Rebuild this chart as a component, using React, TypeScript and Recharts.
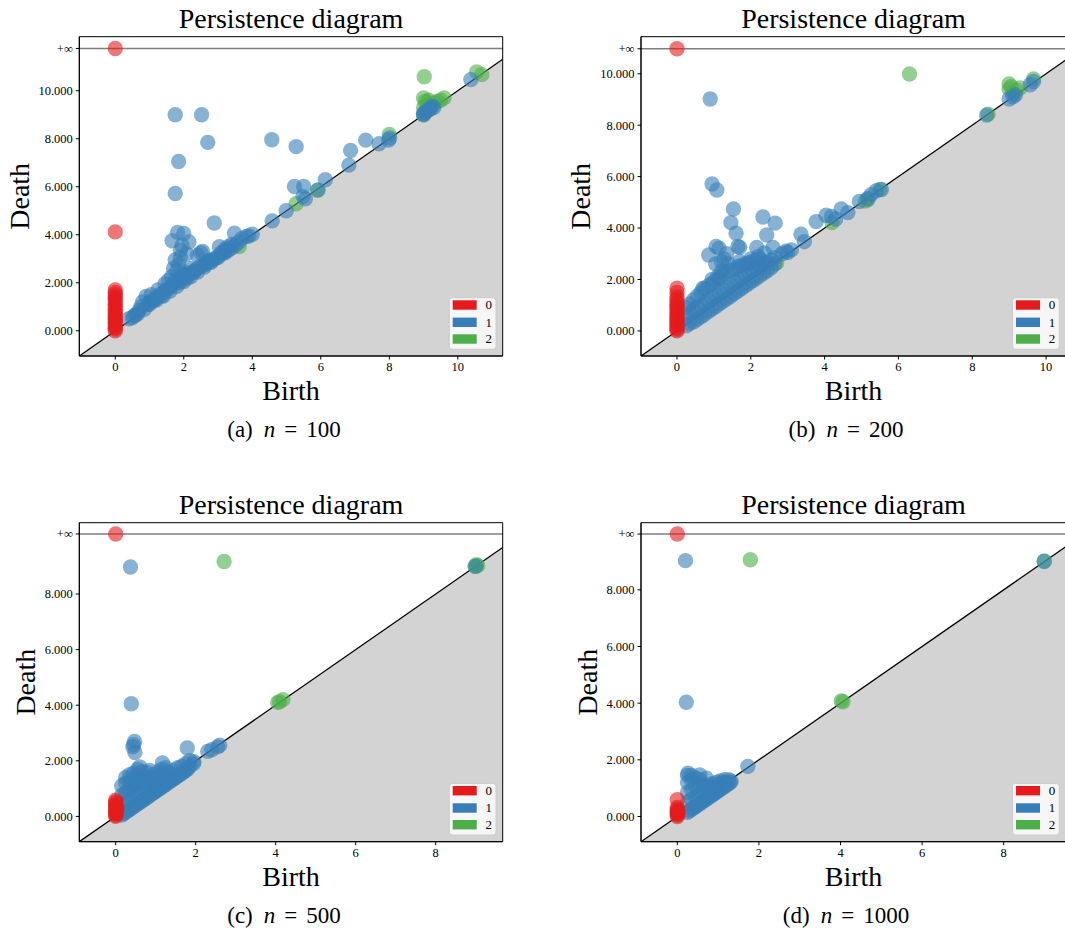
import React from "react";
import {
  ComposedChart,
  XAxis,
  YAxis,
  Area,
  Scatter,
  ReferenceLine,
  ReferenceArea,
} from "recharts";

const SERIF = '"Liberation Serif", "Times New Roman", serif';
const RED = "#e41a1c";
const BLUE = "#377eb8";
const GREEN = "#4daf4a";

type Pt = [number, number]; // [birth, death]

// (a) n = 100
const h0A: Pt[] = [
  [0, Infinity], [0, 4.12], [0, 0], [0, 0.07], [0, 0.14], [0, 0.22], [0, 0.3], [0, 0.38],
  [0, 0.46], [0, 0.55], [0, 0.63], [0, 0.72], [0, 0.8], [0, 0.9], [0, 1.0], [0, 1.1],
  [0, 1.2], [0, 1.3], [0, 1.4], [0, 1.5], [0, 1.6], [0, 1.7],
];
const h1A: Pt[] = [
  [1.75, 9.0], [2.52, 9.0], [2.7, 7.85], [1.85, 7.05], [1.75, 5.72], [2.89, 4.49],
  [4.57, 7.96], [5.28, 7.67], [4.58, 4.58], [4.99, 5.0], [5.23, 6.01], [5.5, 6.01],
  [5.48, 5.6], [5.55, 5.5], [5.92, 5.87], [6.13, 6.29], [6.82, 6.9], [6.87, 7.51],
  [7.31, 7.94], [7.7, 7.79], [8.01, 8.03], [7.98, 7.95], [10.38, 10.46],
  [9.0, 9.05], [9.05, 9.1], [9.1, 9.15], [9.2, 9.25], [9.25, 9.35], [9.3, 9.3], [9.15, 9.2], [9.0, 9.0],
  [3.48, 4.07], [3.7, 3.85], [3.82, 3.93], [4.0, 4.02], [3.9, 3.95], [3.3, 3.5], [3.2, 3.4],
  [3.1, 3.25], [3.0, 3.1], [3.04, 3.5], [2.55, 3.3], [2.5, 3.25], [2.4, 3.15], [2.8, 2.95], [2.65, 2.8],
  [1.66, 3.75], [1.82, 4.1], [2.0, 4.05], [2.15, 3.7], [1.95, 3.55], [1.9, 3.35], [2.08, 3.2],
  [1.9, 3.05], [1.75, 2.95], [1.85, 2.75], [1.7, 2.6], [1.8, 2.5], [2.0, 2.45], [2.2, 2.6],
  [2.3, 2.45], [2.1, 2.3],
  [0.4, 0.5], [0.5, 0.55], [0.55, 0.62], [0.6, 0.68], [0.65, 0.7], [0.7, 0.85], [0.75, 1.0],
  [0.8, 1.2], [0.85, 0.9], [0.9, 1.43], [0.95, 1.1], [1.0, 1.2], [1.0, 1.1], [1.05, 1.5],
  [1.1, 1.25], [1.2, 1.4], [1.2, 1.28], [1.25, 1.7], [1.3, 1.5], [1.4, 1.6], [1.4, 1.45],
  [1.45, 1.95], [1.5, 1.7], [1.55, 2.1], [1.6, 1.8], [1.6, 1.65], [1.65, 2.25], [1.7, 1.95],
  [1.75, 2.1], [1.8, 1.85], [1.85, 2.0], [1.9, 2.2], [1.95, 2.1], [2.0, 2.35], [2.0, 2.05],
  [2.1, 2.2], [2.2, 2.4], [2.2, 2.25], [2.3, 2.5], [2.4, 2.6], [2.4, 2.45], [2.5, 2.7],
  [2.6, 2.75], [2.6, 2.65], [2.7, 2.9], [2.8, 2.85], [2.8, 2.9], [2.9, 3.0], [3.0, 3.05],
  [3.1, 3.2], [3.2, 3.3], [3.2, 3.25], [3.3, 3.35], [3.4, 3.6], [3.4, 3.45], [3.5, 3.55],
  [3.6, 3.7], [1.15, 1.3], [1.35, 1.45],
];
const h2A: Pt[] = [
  [9.02, 10.58], [9.0, 9.7], [9.05, 9.55], [9.1, 9.4], [9.0, 9.3], [9.15, 9.6], [9.3, 9.5],
  [9.4, 9.55], [9.5, 9.6], [9.6, 9.7], [9.0, 9.0], [10.55, 10.78], [10.7, 10.67],
  [8.0, 8.18], [5.28, 5.29], [5.9, 5.85], [3.62, 3.51],
];

// (b) n = 200
const h0B: Pt[] = [
  [0, Infinity], [0, 1.66], [0, 1.5], [0, 0], [0, 0.06], [0, 0.12], [0, 0.2], [0, 0.28],
  [0, 0.36], [0, 0.44], [0, 0.52], [0, 0.6], [0, 0.68], [0, 0.76], [0, 0.85], [0, 0.94],
  [0, 1.03], [0, 1.12], [0, 1.22], [0, 1.32],
];
const h1B: Pt[] = [
  [0.9, 9.02], [0.95, 5.71], [1.08, 5.48], [1.53, 4.74], [1.46, 4.21], [1.6, 3.8], [1.65, 3.28],
  [1.7, 3.25], [2.33, 4.43], [2.66, 4.19], [2.43, 3.73], [2.16, 3.25], [2.37, 3.03], [2.6, 3.25],
  [1.06, 3.28], [1.14, 3.22], [0.86, 2.95], [1.27, 2.8], [2.85, 3.0], [2.95, 3.1], [3.0, 3.05],
  [3.1, 3.15], [3.36, 3.76], [3.45, 3.47], [3.77, 4.25], [4.04, 4.5], [4.18, 4.45], [4.45, 4.74],
  [4.63, 4.6], [4.3, 4.35], [4.94, 5.03], [5.17, 5.15], [5.26, 5.3], [5.4, 5.45], [5.54, 5.5],
  [8.39, 8.39], [9.0, 9.02], [9.17, 9.18], [9.1, 9.1], [9.57, 9.57], [9.66, 9.7],
  [1.05, 2.6], [1.2, 2.7], [1.35, 3.0], [1.4, 2.6], [1.7, 2.7], [2.0, 2.8], [2.2, 2.9],
  [0.7, 1.65], [0.95, 2.0], [1.1, 2.1], [1.2, 2.3],
  [0.25, 0.2], [0.25, 0.55], [0.25, 0.9], [0.35, 0.3], [0.35, 0.7], [0.35, 1.05],
  [0.45, 0.35], [0.45, 0.8], [0.45, 1.2], [0.55, 0.45], [0.55, 0.9], [0.55, 1.35],
  [0.65, 0.55], [0.65, 1.0], [0.65, 1.5], [0.75, 0.65], [0.75, 1.1], [0.75, 1.65],
  [0.85, 0.75], [0.85, 1.2], [0.85, 1.75], [0.95, 0.85], [0.95, 1.3], [0.95, 1.85],
  [1.05, 0.95], [1.05, 1.4], [1.05, 1.95], [1.15, 1.05], [1.15, 1.5], [1.15, 2.05],
  [1.25, 1.15], [1.25, 1.6], [1.25, 2.2], [1.35, 1.25], [1.35, 1.7], [1.35, 2.3],
  [1.45, 1.35], [1.45, 1.8], [1.45, 2.35], [1.55, 1.45], [1.55, 1.9], [1.55, 2.4],
  [1.65, 1.55], [1.65, 2.0], [1.65, 2.5], [1.75, 1.65], [1.75, 2.1], [1.75, 2.55],
  [1.85, 1.75], [1.85, 2.2], [1.85, 2.6], [1.95, 1.85], [1.95, 2.3], [1.95, 2.65],
  [2.05, 1.95], [2.05, 2.35], [2.05, 2.7], [2.15, 2.05], [2.15, 2.45], [2.15, 2.75],
  [2.25, 2.15], [2.25, 2.5], [2.25, 2.8], [2.35, 2.25], [2.35, 2.6], [2.45, 2.35],
  [2.45, 2.65], [2.55, 2.45], [2.55, 2.75], [2.65, 2.6], [2.65, 2.85],
];
const h2B: Pt[] = [
  [6.3, 9.99], [8.43, 8.43], [9.0, 9.6], [9.0, 9.4], [9.05, 9.5], [9.3, 9.45], [9.2, 9.35],
  [9.66, 9.8], [9.1, 9.25], [4.2, 4.21], [5.17, 5.1], [5.5, 5.5], [5.1, 5.05], [2.7, 2.65],
];

// (c) n = 500
const h0C: Pt[] = [
  [0, Infinity], [0, 0], [0, 0.05], [0, 0.1], [0, 0.16], [0, 0.22], [0, 0.28], [0, 0.34],
  [0, 0.4], [0, 0.46], [0, 0.52], [0, 0.58], [0.03, 0.3], [0.02, 0.15],
];
const h1C: Pt[] = [
  [0.37, 8.97], [0.39, 4.05], [0.45, 2.58], [0.47, 2.7], [0.48, 2.3], [0.43, 2.5], [1.79, 2.46],
  [2.3, 2.34], [2.4, 2.4], [2.55, 2.5], [2.6, 2.56], [1.17, 1.92], [1.95, 1.97], [1.85, 2.0],
  [9.0, 9.0], [0.6, 1.78], [0.55, 1.7],
  [0.15, 0.05], [0.15, 0.4], [0.15, 0.75], [0.15, 1.1],
  [0.25, 0.15], [0.25, 0.5], [0.25, 0.85], [0.25, 1.2], [0.25, 1.4],
  [0.35, 0.25], [0.35, 0.6], [0.35, 0.95], [0.35, 1.3], [0.35, 1.5],
  [0.45, 0.35], [0.45, 0.7], [0.45, 1.05], [0.45, 1.4], [0.45, 1.55],
  [0.55, 0.45], [0.55, 0.8], [0.55, 1.15], [0.55, 1.5],
  [0.65, 0.55], [0.65, 0.9], [0.65, 1.25], [0.65, 1.6],
  [0.75, 0.65], [0.75, 1.0], [0.75, 1.35], [0.75, 1.6],
  [0.85, 0.75], [0.85, 1.1], [0.85, 1.4], [0.85, 1.65],
  [0.95, 0.85], [0.95, 1.2], [0.95, 1.5], [1.05, 0.95], [1.05, 1.3], [1.05, 1.6],
  [1.15, 1.05], [1.15, 1.4], [1.15, 1.7], [1.25, 1.15], [1.25, 1.45], [1.25, 1.75],
  [1.35, 1.25], [1.35, 1.55], [1.45, 1.35], [1.45, 1.65], [1.55, 1.45], [1.55, 1.75],
  [1.65, 1.55], [1.65, 1.8], [1.75, 1.65], [1.75, 1.9], [1.85, 1.8], [1.95, 1.9],
  [0.2, 0.1], [0.3, 0.2], [0.4, 0.3], [0.5, 0.4], [0.6, 0.5], [0.7, 0.6], [0.8, 0.7],
  [0.9, 0.8], [1.0, 0.9], [1.1, 1.0], [1.2, 1.1], [1.3, 1.2], [1.4, 1.3], [1.5, 1.4],
  [1.6, 1.5], [1.7, 1.6], [1.8, 1.7], [0.5, 1.2], [0.7, 1.2], [0.9, 1.3], [1.1, 1.5],
  [1.3, 1.6], [0.3, 0.9], [0.4, 1.2],
];
const h2C: Pt[] = [
  [2.71, 9.17], [9.02, 9.05], [8.98, 9.0], [9.05, 9.02], [4.05, 4.1], [4.18, 4.2], [4.1, 4.12],
];

// (d) n = 1000
const h0D: Pt[] = [
  [0, Infinity], [0, 0.59], [0, 0], [0, 0.05], [0, 0.1], [0, 0.15], [0, 0.2], [0, 0.26],
  [0, 0.32], [0.02, 0.1],
];
const h1D: Pt[] = [
  [0.2, 9.03], [0.22, 4.03], [1.73, 1.77], [8.99, 9.0],
  [0.26, 1.53], [0.55, 1.47], [0.71, 1.35],
  [0.25, 0.15], [0.25, 0.5], [0.25, 0.85], [0.25, 1.2], [0.25, 1.45],
  [0.35, 0.25], [0.35, 0.6], [0.35, 0.95], [0.35, 1.3], [0.35, 1.45],
  [0.45, 0.35], [0.45, 0.7], [0.45, 1.05], [0.45, 1.35],
  [0.55, 0.45], [0.55, 0.8], [0.55, 1.1], [0.55, 1.3],
  [0.65, 0.55], [0.65, 0.85], [0.65, 1.1], [0.75, 0.65], [0.75, 0.9], [0.75, 1.1],
  [0.85, 0.75], [0.85, 1.0], [0.85, 1.15], [0.95, 0.85], [0.95, 1.05], [0.95, 1.2],
  [1.05, 0.95], [1.05, 1.15], [1.05, 1.25], [1.15, 1.05], [1.15, 1.2], [1.15, 1.3],
  [1.25, 1.15], [1.25, 1.3], [1.32, 1.25],
  [0.3, 0.2], [0.4, 0.3], [0.5, 0.4], [0.6, 0.5], [0.7, 0.6], [0.8, 0.7], [0.9, 0.8],
  [1.0, 0.9], [1.1, 1.0], [1.2, 1.1], [1.3, 1.2],
];
const h2D: Pt[] = [[1.79, 9.06], [9.0, 9.02], [4.02, 4.08], [4.06, 4.05]];

const xTicksTop = [0, 2, 4, 6, 8, 10];
const yTicksTop = [0, 2, 4, 6, 8, 10];
const xTicksBottom = [0, 2, 4, 6, 8];
const yTicksBottom = [0, 2, 4, 6, 8];
const legendLabels = ["0", "1", "2"];
const captions = [
  { tag: "(a)", n: "100" },
  { tag: "(b)", n: "200" },
  { tag: "(c)", n: "500" },
  { tag: "(d)", n: "1000" },
];

const panels = [
  { sx: 0, sy: 0, sw: 535, sh: 440, L: 79.3, T: 36.7, W: 423.4, H: 319.3,
    xMin: -1.05, xMax: 11.31, yMax: 12.25, inf: 11.76,
    xTicks: xTicksTop, yTicks: yTicksTop, h0: h0A, h1: h1A, h2: h2A,
    deathX: 29.3, capX: 284 },
  { sx: 535, sy: 0, sw: 540, sh: 440, L: 641, T: 36.7, W: 425, H: 319.3,
    xMin: -0.975, xMax: 10.54, yMax: 11.44, inf: 10.97,
    xTicks: xTicksTop, yTicks: yTicksTop, h0: h0B, h1: h1B, h2: h2B,
    deathX: 590, capX: 846 },
  { sx: 0, sy: 480, sw: 535, sh: 448, L: 79.3, T: 522.7, W: 423.4, H: 319,
    xMin: -0.91, xMax: 9.675, yMax: 10.565, inf: 10.16,
    xTicks: xTicksBottom, yTicks: yTicksBottom, h0: h0C, h1: h1C, h2: h2C,
    deathX: 35, capX: 284 },
  { sx: 535, sy: 480, sw: 540, sh: 448, L: 641, T: 522.7, W: 425, H: 319,
    xMin: -0.89, xMax: 9.527, yMax: 10.37, inf: 9.97,
    xTicks: xTicksBottom, yTicks: yTicksBottom, h0: h0D, h1: h1D, h2: h2D,
    deathX: 597, capX: 846 },
];

type Panel = (typeof panels)[number];

const dot = (color: string) => (props: any) =>
  <circle cx={props.cx} cy={props.cy} r={7.7} fill={color} fillOpacity={0.6} />;

function Diagram({ p }: { p: Panel }) {
  const rows = (pts: Pt[]) =>
    pts.map(([b, d]) => ({ x: b, y: Number.isFinite(d) ? d : p.inf }));
  const yAxisWidth = p.L - p.sx;
  const top = p.T - p.sy;
  const margin = {
    top,
    left: 0,
    right: p.sw - yAxisWidth - p.W,
    bottom: p.sh - top - p.H - 30,
  };
  const yMin = p.xMin;
  const diag = [{ x: p.xMin, y: p.xMin }, { x: p.xMax, y: p.xMax }];
  const tick = { fontSize: 12.5, fill: "#000", fontFamily: SERIF };

  return (
    <div style={{ position: "absolute", left: p.sx, top: p.sy }}>
      <ComposedChart width={p.sw} height={p.sh} margin={margin}>
        <XAxis type="number" dataKey="x" domain={[p.xMin, p.xMax]} allowDataOverflow
          ticks={p.xTicks} interval={0} height={30} stroke="#000" tickSize={3.5}
          tickMargin={3} tick={tick} />
        <YAxis type="number" dataKey="y" domain={[yMin, p.yMax]} allowDataOverflow
          ticks={[...p.yTicks, p.inf]} interval={0} width={yAxisWidth} stroke="#000"
          tickSize={3.5} tickMargin={3} tick={tick}
          tickFormatter={(v: number) => (v === p.inf ? "+∞" : v.toFixed(3))} />
        <Area data={diag} dataKey="y" type="linear" baseValue={yMin} stroke="#000"
          strokeWidth={1.3} fill="#d3d3d3" fillOpacity={1} dot={false} activeDot={false}
          isAnimationActive={false} />
        <ReferenceLine y={p.inf} stroke="#000" strokeOpacity={0.5} strokeWidth={1.4} />
        <Scatter data={rows(p.h2)} dataKey="y" shape={dot(GREEN)} isAnimationActive={false} />
        <Scatter data={rows(p.h1)} dataKey="y" shape={dot(BLUE)} isAnimationActive={false} />
        <Scatter data={rows(p.h0)} dataKey="y" shape={dot(RED)} isAnimationActive={false} />
        <ReferenceArea x1={p.xMin} x2={p.xMax} y1={yMin} y2={p.yMax} fill="none"
          fillOpacity={0} stroke="#000" strokeWidth={1} ifOverflow="visible" />
      </ComposedChart>
    </div>
  );
}

function Legend({ p }: { p: Panel }) {
  const bw = 46.7;
  const bh = 51.6;
  const bx = p.L + p.W - 6.7 - bw;
  const by = p.T + p.H - 6.7 - bh;
  const colors = [RED, BLUE, GREEN];
  const rowsY = [7.3, 24.6, 41.3];
  return (
    <g>
      <rect x={bx} y={by} width={bw} height={bh} rx={3} fill="#fff" fillOpacity={0.8}
        stroke="#ccc" strokeWidth={1} />
      {legendLabels.map((lab, i) => (
        <g key={lab}>
          <rect x={bx + 3.4} y={by + rowsY[i] - 4.7} width={24} height={9.4} fill={colors[i]} />
          <text x={bx + 39.4} y={by + rowsY[i] + 4.3} textAnchor="middle" fontSize={13}
            fontFamily={SERIF} fill="#000">{lab}</text>
        </g>
      ))}
    </g>
  );
}

export default function App() {
  return (
    <div style={{ position: "absolute", left: 0, top: 0, width: 1065, height: 928,
      overflow: "hidden", background: "#fff" }}>
      {panels.map((p, i) => <Diagram key={i} p={p} />)}
      <svg width={1065} height={928} style={{ position: "absolute", left: 0, top: 0,
        pointerEvents: "none" }} fontFamily={SERIF}>
        {panels.map((p, i) => {
          const cx = p.L + p.W / 2;
          const rowOff = p.sy === 0 ? 0 : 486;
          return (
            <g key={i}>
              <text x={cx} y={28.3 + rowOff} textAnchor="middle" fontSize={28} fill="#000">
                Persistence diagram
              </text>
              <text x={cx} y={400 + rowOff} textAnchor="middle" fontSize={28} fill="#000">
                Birth
              </text>
              <text transform={`translate(${p.deathX}, ${p.T + p.H / 2}) rotate(-90)`}
                textAnchor="middle" fontSize={28} fill="#000">Death</text>
              <text x={p.capX} y={437.3 + rowOff} textAnchor="middle" fontSize={23}
                fill="#000">
                <tspan>{captions[i].tag}</tspan>
                <tspan dx={11} fontStyle="italic">n</tspan>
                <tspan dx={9}>=</tspan>
                <tspan dx={9}>{captions[i].n}</tspan>
              </text>
              <Legend p={p} />
            </g>
          );
        })}
      </svg>
    </div>
  );
}
